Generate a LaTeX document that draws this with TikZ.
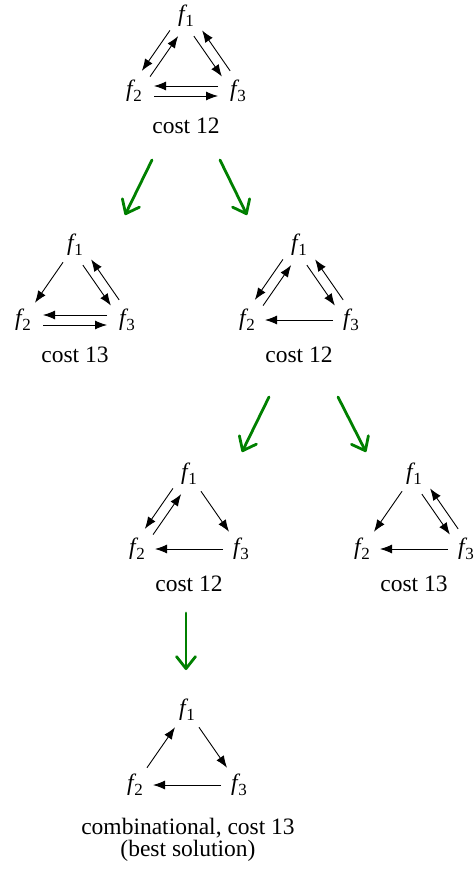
\documentclass[tikz,border=0pt]{standalone}
\usepackage{fontspec}
\setmainfont{Liberation Serif}
\newfontfamily\tms{Liberation Serif}
\usetikzlibrary{arrows.meta,calc}
\definecolor{grn}{RGB}{0,128,0}
\newcommand\fl[1]{{\itshape f}\kern0.5pt\raisebox{-5pt}{\fontsize{17}{17}\selectfont #1}}
% arrow from #1 to #2, offset #3 to the right of travel, shortened by #4 at both ends
\newcommand\arr[4]{\draw[blk,shorten <=#4,shorten >=#4] ($(#1)!#3!-90:(#2)$) -- ($(#2)!#3!90:(#1)$);}
\newcommand\tri[4]{%
  \node[lab] (#1a) at (#2,#3) {\fl{1}};
  \node[lab] (#1b) at ($(#1a)+(-52,75)$) {\fl{2}};
  \node[lab] (#1c) at ($(#1a)+(52,75)$) {\fl{3}};
  \node[lab] (#1t) at ($(#1a)+(0,110)$) {#4};}
\begin{document}
\begin{tikzpicture}[x=1pt,y=-1pt,
  lab/.style={inner sep=0pt,font=\tms\fontsize{23.5}{27}\selectfont},
  blk/.style={line width=0.9pt,-{Latex[length=12pt,width=9pt]}},
  garr/.style={grn,line width=2.8pt,line cap=round,-{Straight Barb[length=12pt,width=19pt,line cap=round,line join=round]}}]
\useasboundingbox (0,0) rectangle (474,869);
% T1
\tri{A}{186}{16}{cost 12}
\arr{Aa}{Ab}{5pt}{21pt}\arr{Ab}{Aa}{5pt}{21pt}
\arr{Aa}{Ac}{5pt}{21pt}\arr{Ac}{Aa}{5pt}{21pt}
\arr{Ab}{Ac}{5pt}{20pt}\arr{Ac}{Ab}{5pt}{20pt}
% T2
\tri{B}{75}{245}{cost 13}
\arr{Ba}{Bb}{0pt}{21pt}
\arr{Ba}{Bc}{5pt}{21pt}\arr{Bc}{Ba}{5pt}{21pt}
\arr{Bb}{Bc}{5pt}{20pt}\arr{Bc}{Bb}{5pt}{20pt}
% T3
\tri{C}{299}{245}{cost 12}
\arr{Ca}{Cb}{5pt}{21pt}\arr{Cb}{Ca}{5pt}{21pt}
\arr{Ca}{Cc}{5pt}{21pt}\arr{Cc}{Ca}{5pt}{21pt}
\arr{Cc}{Cb}{0pt}{18pt}
% T4
\tri{D}{189}{474}{cost 12}
\arr{Da}{Db}{5pt}{21pt}\arr{Db}{Da}{5pt}{21pt}
\arr{Da}{Dc}{0pt}{21pt}
\arr{Dc}{Db}{0pt}{18pt}
% T5
\tri{E}{414}{474}{cost 13}
\arr{Ea}{Eb}{0pt}{21pt}
\arr{Ea}{Ec}{5pt}{21pt}\arr{Ec}{Ea}{5pt}{21pt}
\arr{Ec}{Eb}{0pt}{18pt}
% T6
\node[lab] (Fa) at (187,710) {\fl{1}};
\node[lab] (Fb) at ($(Fa)+(-52,75)$) {\fl{2}};
\node[lab] (Fc) at ($(Fa)+(52,75)$) {\fl{3}};
\node[lab] (Ft) at (188,828) {combinational, cost 13};
\node[lab] (Fu) at (188,851) {(best solution)};
\arr{Fb}{Fa}{0pt}{21pt}
\arr{Fa}{Fc}{0pt}{21pt}
\arr{Fc}{Fb}{0pt}{18pt}
% green arrows
\coordinate (g1s) at (152,160); \coordinate (g1e) at (125,215);
\coordinate (g2s) at (220,160); \coordinate (g2e) at (247,215);
\coordinate (g3s) at (269,397); \coordinate (g3e) at (242,452);
\coordinate (g4s) at (338,397); \coordinate (g4e) at (366,452);
\coordinate (g5s) at (186,613); \coordinate (g5e) at (186,670);
\draw[garr] (g1s) -- (g1e);
\draw[garr] (g2s) -- (g2e);
\draw[garr] (g3s) -- (g3e);
\draw[garr] (g4s) -- (g4e);
\draw[garr] (g5s) -- (g5e);
\end{tikzpicture}
\end{document}
